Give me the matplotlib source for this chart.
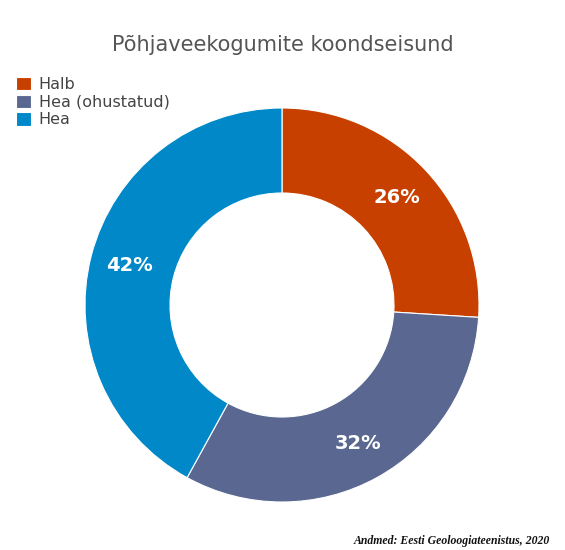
import matplotlib.pyplot as plt

labels = ['Halb', 'Hea (ohustatud)', 'Hea']
values = [26, 32, 42]
colors = ['#c84000', '#5a6891', '#0088c8']

fig = plt.figure(figsize=(5.65, 5.5), dpi=100)
fig.patch.set_facecolor('white')

# square axes centred on the donut
ax = fig.add_axes([(282 - 200) / 565, (245 - 200) / 550, 400 / 565, 400 / 550])
wedges, texts, autotexts = ax.pie(
    values, colors=colors, startangle=90, counterclock=False,
    radius=0.985, autopct='%d%%', pctdistance=0.80,
    wedgeprops=dict(width=0.425, edgecolor='white', linewidth=0.8),
    textprops=dict(color='white', fontsize=14, fontweight='bold'))
ax.set_xlim(-1, 1)
ax.set_ylim(-1, 1)
ax.set_aspect('equal')
ax.axis('off')

fig.text(0.5, 1 - 45 / 550, 'Põhjaveekogumite koondseisund', ha='center', va='center',
         fontsize=15, color='#555555')

leg = fig.legend(wedges, labels, loc='upper left', bbox_to_anchor=(5 / 565, 1 - 66 / 550),
                 frameon=False, fontsize=11.5, handlelength=0.9, handleheight=0.9,
                 handletextpad=0.5, labelspacing=0.15, borderpad=0.2)
for t in leg.get_texts():
    t.set_color('#444444')

fig.text(1 - 15 / 565, 1 - 541 / 550, 'Andmed: Eesti Geoloogiateenistus, 2020', ha='right',
         va='center', fontsize=8.5, fontstyle='italic', fontweight='bold',
         family='Liberation Serif', color='#111111')

fig.savefig('out.png', dpi=100)
